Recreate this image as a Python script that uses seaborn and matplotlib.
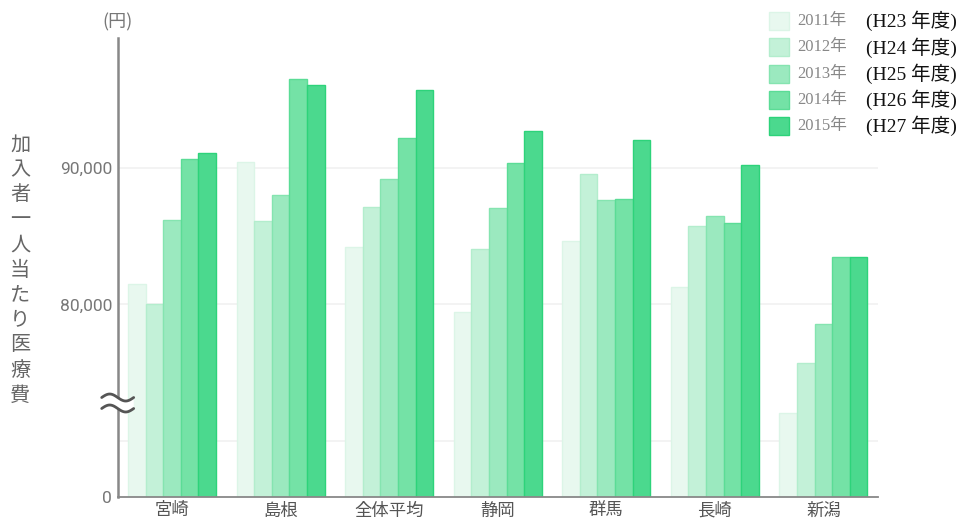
import numpy as np
import pandas as pd
import matplotlib.pyplot as plt
from matplotlib.patches import Rectangle, Polygon
import seaborn as sns

# data (yen per insured person)
regions = ["宮崎", "島根", "全体平均", "静岡", "群馬", "長崎", "新潟"]
years = ["2011年", "2012年", "2013年", "2014年", "2015年"]
heisei = ["(H23 年度)", "(H24 年度)", "(H25 年度)", "(H26 年度)", "(H27 年度)"]
v2011 = [81490, 90420, 84200, 79460, 84630, 81270, 72020]
v2012 = [80040, 86090, 87100, 84030, 89560, 85750, 75700]
v2013 = [86150, 87980, 89200, 87030, 87610, 86460, 78580]
v2014 = [90660, 96520, 92150, 90320, 87730, 85970, 83440]
v2015 = [91080, 96050, 95710, 92670, 92030, 90180, 83460]

fills = ["#e8f8ef", "#c3f1d8", "#9be9bf", "#74e2a6", "#4bd98e"]
edges = ["#dcf5e7", "#b3edcd", "#85e4b0", "#5bdc96", "#2dd37a"]

df = pd.DataFrame({
    "region": regions * 5,
    "year": np.repeat(years, len(regions)),
    "value": v2011 + v2012 + v2013 + v2014 + v2015,
})

sns.set_style("white")
plt.rcParams["font.family"] = ["Noto Sans CJK JP", "DejaVu Sans"]

fig = plt.figure(figsize=(9.6, 5.19), dpi=100)
ax = fig.add_axes([0.1226, 0.0418, 0.7917, 0.885])

sns.barplot(data=df, x="region", y="value", hue="year", palette=fills,
            width=0.81, saturation=1, ax=ax, legend=False, zorder=2)
for cont, ec in zip(ax.containers, edges):
    for bar in cont:
        bar.set_edgecolor(ec)
        bar.set_linewidth(1.0)

y_bottom, y_top = 65880, 99490
ax.set_ylim(y_bottom, y_top)
ax.set_xlim(-0.5, len(regions) - 0.5)

# light grid lines
for g in [70000, 80000, 90000]:
    ax.axhline(g, color="#f1f1f1", lw=1.2, zorder=0)

ax.set_yticks([y_bottom, 80000, 90000])
ax.set_yticklabels(["0", "80,000", "90,000"])
ax.tick_params(axis="y", length=0, pad=4, labelsize=12.5, labelcolor="#777777")
ax.tick_params(axis="x", length=0, pad=3, labelsize=12.5, labelcolor="#555555")
for lab in ax.get_yticklabels():
    lab.set_family(["Roboto", "DejaVu Sans"])
ax.set_xlabel("")
ax.set_ylabel("")

for s in ["top", "right"]:
    ax.spines[s].set_visible(False)
ax.spines["left"].set_color("#888888")
ax.spines["left"].set_linewidth(1.8)
ax.spines["bottom"].set_color("#888888")
ax.spines["bottom"].set_linewidth(1.3)

# axis break mark
brk = (72780 - y_bottom) / (y_top - y_bottom)
dx = 16 / 760
dy = 1 / 460
t = np.linspace(-1, 1, 40)
wave = -3.5 * np.sin(np.pi * t) * dy
xs = t * dx
gap = 5.5 * dy
poly = np.column_stack([np.r_[xs, xs[::-1]],
                        np.r_[brk + gap + wave, (brk - gap + wave)[::-1]]])
ax.add_patch(Polygon(poly, closed=True, facecolor="white", edgecolor="none",
                     transform=ax.transAxes, clip_on=False, zorder=5))
for off in [gap, -gap]:
    ax.plot(xs, brk + off + wave, color="#555555", lw=2.0,
            transform=ax.transAxes, clip_on=False, zorder=6)

# unit and vertical y label
fig.text(117.7 / 960, 1 - 22 / 519, "(円)", ha="center", va="center",
         fontsize=13, color="#777777")
ylab = "加入者一人当たり医療費"
for i, ch in enumerate(ylab):
    fig.text(20 / 960, 1 - (145 + i * 25) / 519, ch, ha="center", va="center",
             fontsize=14.5, color="#666666")

# legend
serif = ["Liberation Serif", "Noto Sans CJK JP"]
for i, (yr, hs, fc, ec) in enumerate(zip(years, heisei, fills, edges)):
    yc = 21 + i * 26.3
    fig.patches.append(Rectangle((769 / 960, 1 - (yc + 9) / 519), 20 / 960, 18 / 519,
                                 facecolor=fc, edgecolor=ec, lw=1,
                                 transform=fig.transFigure, figure=fig))
    fig.text(797 / 960, 1 - yc / 519, yr, ha="left", va="center",
             fontsize=12, color="#888888", family=serif)
    fig.text(866 / 960, 1 - yc / 519, hs, ha="left", va="center",
             fontsize=14, color="#111111", family=serif)

fig.savefig("out.png", dpi=100)
